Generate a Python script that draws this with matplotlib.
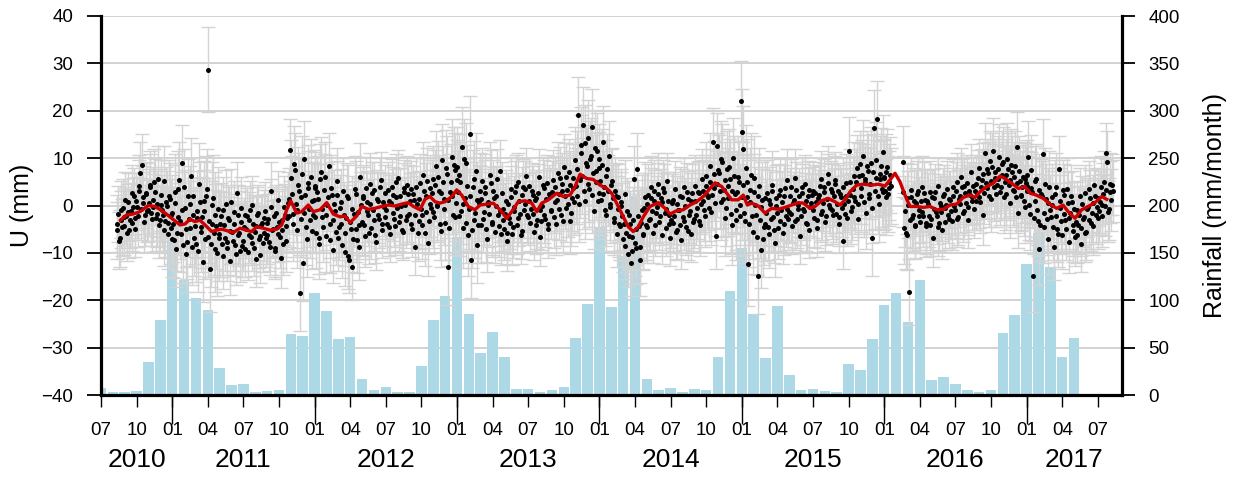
import numpy as np
import matplotlib.pyplot as plt

plt.rcParams['font.family'] = ['Liberation Sans', 'DejaVu Sans']

# monthly rainfall (mm/month), one bar per month from Jul 2010 to May 2017
rain_start = 2010.5
rainfall = [7, 3.5, 3.5, 4.6, 35, 79.5,
            165, 121, 102, 90, 29, 11, 12, 3.5, 4.6, 5.6, 64, 62,
            108, 89, 59.5, 61.6, 17, 5.6, 8, 3.5, 3.5, 31, 79.5, 105,
            167, 86, 44.7, 66, 40.5, 6.7, 6.7, 3.5, 5.6, 8.8, 60.5, 96.4,
            177, 93, 147, 210, 17, 5.6, 7.7, 3.5, 6.7, 5.6, 40.5, 110,
            155, 86, 39.4, 94.3, 21.5, 5.6, 6.7, 4.6, 3.5, 33, 26.7, 59.5,
            95.3, 108, 77, 121, 16, 19, 12, 5.6, 3.5, 5.6, 65, 84,
            138, 171, 135, 40.5, 60.5]

# typical 1-sigma of the daily solutions per month (Jul 2010 .. Aug 2017)
err_monthly = [6, 6, 6, 6.5, 7, 7.5,
               8, 8, 8.5, 9, 7, 6.5, 6, 6, 6, 6.5, 8, 8,
               7.5, 7, 7, 7, 6.5, 6, 6, 6, 6, 7, 7.5, 8,
               8.5, 8, 7, 6.5, 6.5, 6, 6, 6, 6.5, 7, 8, 8,
               7.5, 7, 7, 7.5, 6.5, 6, 6, 6, 6.5, 7, 8, 8.5,
               9, 8, 7, 6.5, 6, 6, 6, 6, 6, 7, 7.5, 8,
               8, 7.5, 7, 6.5, 6, 6, 6, 6, 6.5, 7, 7.5, 7.5,
               7.5, 7.5, 7, 6.5, 6, 6, 6.5, 6.5]

# vertical displacement U (mm); two interleaved samplings, about 2 days apart
u_2010 = [-5.2, -1.8, -6.9, -3.0, -0.5, -4.4, -2.2, 0.8, -5.1, -1.2, -3.6, 1.9,
          -2.7, -0.4, 4.2, 6.8, 8.6, 0.5, -2.1, 2.7, -0.9, 3.8, -1.5, 1.2,
          4.9, -2.6, 0.3, -4.1, 2.2, -1.0, 5.1, -3.3, -0.2, -6.0, 1.4, -4.8]
u_2010b = [-3.8, -7.4, -0.9, -4.6, -2.5, 1.1, -5.8, -1.4, -3.0, 2.6, -0.3, -4.9,
           0.9, -2.2, 3.1, -0.7, 1.8, -3.4, 2.4, -1.1, 0.6, 4.4, -2.8, -0.4,
           2.9, -1.7, 5.6, -3.0, 0.1, -2.0, -5.2, 0.7, -3.6, 2.0, -1.9, -7.1]
u_2011 = [-1.5, -7.2, 2.8, -5.9, 3.5, -3.3, 9.0, -8.4, -0.6, -10.2, 1.9, -4.7, 6.2, -2.1, -6.8,
          -8.1, -1.2, 4.6, -5.5, -2.4, 0.9, -7.0, 3.4, 28.7, -13.5, -3.8, 1.6, -9.2, -4.4, -0.8,
          -6.9, -2.3, -10.6, -4.1, 0.4, -7.7, -3.0, -11.8, -5.6, -1.4, -8.3, 2.7, -6.2, -9.7, -3.5,
          -7.4, -1.9, -5.0, -9.8, -3.1, -6.6, 0.2, -8.9, -4.3, -2.0, -7.1, -10.4, -3.7, -5.8, -1.1,
          -6.3, -2.8, -8.7, 3.1, -4.9, -9.5, -1.6, -6.0, -3.4, -11.0, -5.2, -0.3, -7.5, -2.6, 1.4,
          11.7, 2.5, -3.8, 7.4, -1.0, 4.3, -18.5, 1.8, -12.1, 9.8, -4.6, 3.6, -0.7, 6.0, -5.3, 1.2]
u_2011b = [-4.0, 0.6, -9.1, -2.5, 5.3, -6.1, -1.0, 3.9, -5.0, -7.6, -2.9, 0.4, -8.8, 2.1, -4.3,
           -2.6, -9.7, 0.7, -4.6, -11.9, -1.1, 2.0, -6.6, -3.2, -8.2, 0.2, -5.7, -2.0, -10.1, -6.1,
           -3.9, -8.1, -1.0, -6.8, -9.0, -2.6, -5.3, 0.8, -7.4, -4.0, -10.2, -2.1, -5.9, -0.5, -8.5,
           -4.5, -9.1, -2.3, -6.2, -0.9, -7.9, -3.8, -5.5, -11.2, -1.6, -6.4, -4.1, -8.0, -2.7, -6.9,
           -3.6, -7.8, -0.4, -5.1, -2.2, -9.0, -4.6, 1.2, -6.7, -3.0, -8.1, -1.9, -4.4, 0.5, -2.3,
           5.9, -1.7, 8.8, 0.4, -5.2, 3.0, -2.9, 6.6, -1.5, 2.2, -7.0, 4.8, -3.1, 0.9, -2.0, 3.7]
u_2012 = [4.2, -5.7, 1.3, -8.1, 7.0, -2.4, 3.3, -6.5, 0.1, 8.4, -4.0, 2.2, -9.3, -1.1, 5.1,
          -6.8, -0.5, -3.9, 3.0, -9.9, -2.7, 1.5, -11.5, -5.0, -12.9, -1.8, 2.4, -7.3, -4.2, 6.1,
          -3.5, 2.1, -6.4, 0.7, -2.0, 4.5, -4.8, -0.9, 3.2, -7.6, 1.0, -2.9, 5.3, -5.1, -0.4,
          2.6, -3.8, 0.9, -6.0, 3.9, -1.5, -4.4, 1.7, 5.8, -2.3, -0.1, -5.6, 2.9, -3.0, 4.4,
          -1.7, 3.4, -4.9, 1.1, -8.7, 0.3, -3.2, 4.8, -2.0, 6.5, -5.8, 2.0, -7.9, 3.7, -0.6,
          5.6, -2.5, 8.3, -0.2, 3.1, -5.4, 9.6, 1.4, -3.6, 6.7, -13.0, 2.8, 10.2, -1.9, 7.4, 0.6]
u_2012b = [-2.4, 2.9, -6.9, 5.5, -0.8, -4.5, 6.0, -1.9, 1.7, -7.2, 3.6, -3.0, 0.4, -5.5, 2.3,
           -4.6, 0.8, -8.4, -2.0, -5.7, 1.9, -10.6, -3.5, -0.8, -7.1, 3.4, -4.9, -1.3, -8.8, 0.1,
           1.6, -4.1, 3.7, -1.2, -5.8, 0.3, 2.6, -3.0, -6.2, 1.4, -1.9, 4.0, -3.9, 0.8, -2.5,
           -1.0, 3.2, -4.6, 0.5, 2.2, -2.8, 4.9, -0.6, -3.5, 1.9, -5.1, 3.6, 0.1, -2.2, 2.5,
           0.9, -3.8, 2.4, -2.1, 4.0, -5.7, 1.3, -0.7, -4.2, 3.0, -1.4, 5.1, -3.3, 0.4, 2.7,
           -1.4, 4.3, 0.2, 6.1, -3.9, 2.7, 5.0, -0.8, 7.9, 1.1, -4.8, 4.9, 2.0, 8.6, -2.4, 5.3]
u_2013 = [8.1, -2.2, 4.9, 12.3, -4.7, 1.6, 9.0, -6.3, 15.1, -11.5, 3.8, -3.0, 7.2, -8.4, 0.5,
          -4.1, 5.2, -1.3, 2.7, -7.0, 0.8, 6.4, -3.4, 3.1, -5.6, 1.9, -2.0, 7.3, -6.1, -0.7,
          -4.9, 1.0, -7.4, -2.6, 3.5, -6.0, -0.3, 2.9, -4.2, 5.0, -1.7, -5.3, 3.8, 0.4, 6.2,
          -2.4, 4.1, -0.8, 2.3, -5.5, 1.5, -3.1, 6.0, -6.7, 0.0, 3.6, -2.8, 4.7, -4.0, 2.0,
          -1.1, 5.3, 0.7, -3.9, 6.8, 2.4, -2.0, 4.5, 8.1, -0.6, 3.2, 7.0, -3.3, 1.6, 5.9,
          9.6, 2.1, 19.1, 5.4, 12.8, 17.0, 1.0, 8.9, 14.2, 3.5, 10.4, 16.6, -1.2, 7.3, 11.5, 2.6]
u_2013b = [2.9, 6.5, -1.1, 0.4, 9.8, -3.6, 4.2, -0.7, 2.1, -5.2, 5.6, -1.6, 1.2, -4.1, 3.0,
           1.3, -2.9, 3.9, -5.0, 0.1, -1.8, 4.7, -3.9, 1.6, -0.2, 5.5, -4.3, -1.1, 2.6, -3.0,
           -1.8, -5.8, 0.4, -3.7, 1.8, -4.6, -1.2, 4.1, -2.6, 0.9, -6.3, 2.2, -0.9, 3.4, -2.0,
           0.9, -3.6, 3.0, -1.7, 1.1, -4.2, 2.7, -0.9, -3.3, 4.3, -2.0, 1.4, -5.0, 2.5, -1.0,
           2.9, -2.4, 4.0, 1.2, -0.8, 5.9, 3.1, -3.3, 2.0, 6.1, 0.3, 4.4, -1.5, 3.6, 0.8,
           4.1, 7.8, 0.3, 11.0, 6.2, 3.0, 13.2, 8.3, 4.6, 9.9, 2.2, 6.9, 12.1, 5.0, 0.9, 8.0]
u_2014 = [9.8, 1.2, 13.5, 4.0, -2.1, 7.6, 10.4, 0.3, 5.2, -3.5, 3.0, -6.0, 1.8, -4.4, 0.0,
          -7.1, 2.5, -5.8, -10.3, -1.9, -12.2, -6.7, 5.5, -9.0, 7.7, -4.3, -11.6, -1.0, -6.2, 1.7,
          -4.6, 2.2, -2.8, 3.9, -5.7, 0.9, -1.5, 4.6, -3.4, 1.6, -6.3, 2.8, -0.7, 5.1, -4.0,
          -6.8, 0.6, -3.7, 3.4, -5.2, -0.9, 2.1, -7.3, -2.4, 4.0, -4.5, 1.3, -1.9, -6.0, 2.7,
          -2.9, 4.2, -0.6, 2.6, -4.1, 5.5, 0.9, -2.2, 6.3, 1.8, 8.4, -1.3, 13.5, 3.7, -6.4,
          12.6, 6.9, 0.8, 9.2, 3.3, -2.7, 7.8, 1.5, 5.6, -4.1, 10.0, 2.4, -3.0, 6.1, 0.2, 22.1]
u_2014b = [5.1, 8.6, 2.4, -1.0, 6.3, 3.1, -0.4, 4.4, 1.5, -2.7, 2.0, -0.8, -3.9, 0.7, -2.3,
           -3.9, -8.6, -1.2, -6.4, -4.0, -9.6, -3.1, -7.9, -5.0, -2.2, -8.8, -3.6, -6.0, -0.6, -4.1,
           0.4, -3.0, 1.5, -1.2, 3.1, -4.1, -0.3, 2.4, -2.3, 0.8, 3.6, -1.6, -4.7, 1.0, -2.1,
           -3.0, 1.1, -2.2, -5.6, 0.3, -1.0, -4.1, 1.8, -3.3, -0.2, 2.9, -5.4, -1.1, 0.9, -3.5,
           1.0, -1.9, 2.9, -3.3, 0.4, 3.1, -1.0, 4.1, 2.3, -0.5, 5.0, 2.2, 6.7, 0.6, 4.5,
           7.4, 3.1, 9.9, 1.4, 5.3, -0.6, 4.2, 8.1, -1.8, 3.0, 6.2, -0.9, 2.8, 4.9, -2.2, 1.7]
u_2015 = [15.6, 11.9, -3.2, 5.0, -12.3, 0.7, 6.4, -5.5, 2.8, -1.9, -14.9, 4.1, -9.4, 1.2, -4.6,
          -3.8, 2.6, -6.1, 0.4, 4.4, -2.5, -8.0, 1.5, -4.7, 3.3, -0.9, -5.8, 2.0, -2.2, 5.4,
          -1.4, 3.8, -4.3, 1.1, 5.9, -2.9, 0.2, -6.4, 2.7, -0.8, 4.6, -3.6, 1.9, -5.1, 0.6,
          3.1, -2.7, 0.8, -4.8, 2.3, 5.6, -1.2, 3.9, -3.5, 1.4, 6.6, -0.5, 2.8, -2.1, 4.5,
          -1.8, 3.0, -4.0, 1.7, -7.4, 0.4, 4.8, -2.6, 11.6, 2.2, -0.3, 6.3, 1.0, 7.9, -2.9,
          8.7, 2.0, 10.5, 4.9, -1.6, 7.3, 1.5, 9.0, -6.9, 16.3, 5.8, 18.2, 0.3, 6.7, 3.4, 11.2]
u_2015b = [4.4, -1.5, 8.0, 1.8, -4.0, 3.2, -2.3, 5.7, 0.2, -6.6, 2.1, -3.1, -0.4, -7.1, 1.6,
           -1.5, -4.5, 1.1, -2.9, 3.0, -5.2, 0.0, -1.6, 2.3, -3.2, 0.8, -4.0, 3.6, -0.7, -2.8,
           1.9, -1.8, 0.5, -3.3, 3.2, -0.7, 2.0, -2.3, 4.0, -1.2, 0.9, -4.0, 3.3, -0.4, 2.2,
           -0.9, 2.6, -3.0, 1.5, 4.1, -1.8, 0.6, 2.9, -2.3, 4.8, 0.1, 3.4, -1.0, 1.9, 5.3,
           0.3, -2.5, 2.5, -0.6, 4.0, -1.7, 2.0, 0.9, 5.0, -1.2, 3.4, 1.8, 4.9, 0.4, 6.2,
           3.7, 6.4, 0.8, 5.5, 8.3, 2.4, 4.6, -0.5, 7.0, 3.0, 9.6, 1.9, 5.6, 8.4, 2.9, 6.0]
u_2016a = [5.9, 1.8, 8.2, 3.6, 6.5]
u_2016ab = [3.0, 7.1, 2.4, 5.0, 4.2]
u_2016b = [9.2, -4.8, -5.9, 1.5, -18.3, 3.2, -2.6, 0.9, -4.1, 2.4, -1.0, -3.5, 3.9, -2.2, 1.1,
           -4.4, 0.3, 2.9, -2.8, -6.9, 1.6, -1.3, 4.1, -3.7, 0.0, -5.2, 2.5, -0.6, 3.4, -2.9,
           1.2, -3.3, 3.8, -0.9, 5.0, -2.4, 2.0, 6.1, -1.6, 4.2, 0.5, -3.0, 3.1, 7.0, 1.8,
           -0.8, 4.6, 2.3, 8.0, 0.7, 5.4, -1.9, 11.0, 3.6, 6.8, 9.3, 1.4, 11.4, 5.9, 2.5,
           7.6, 10.2, 3.9, 8.8, 1.7, 6.5, 9.9, 4.4, 0.6, 7.1, 3.0, 8.3, 12.3, -1.5, 5.2,
           2.1, 6.0, -0.4, 4.8]
u_2016bb = [2.9, -1.2, -6.2, 0.2, -3.1, 1.8, -1.9, -4.3, 0.5, 3.1, -2.3, 0.9, -1.3, 2.7, -3.7,
            0.9, -2.3, -4.1, 1.8, -0.7, 2.8, -2.2, -4.6, 0.6, -1.4, 1.9, -3.4, 0.2, -2.0, 1.3,
            -1.1, 2.0, -0.2, 3.1, -2.8, 1.4, 0.3, 3.9, -1.1, 2.6, 4.7, -0.3, 2.2, 0.9, 4.1,
            3.0, 0.9, 5.7, 1.8, 3.9, 6.6, 2.6, 4.7, 7.6, 1.9, 5.2, 8.2, 3.8, 7.0, 4.4,
            5.5, 2.8, 6.4, 9.1, 4.9, 2.4, 7.7, 5.3, 8.6, 3.3, 6.0, 1.7, 4.8, 7.2, 2.3,
            3.9, 1.0, 5.6, 3.0]
u_2017 = [6.4, 10.3, -1.8, 3.7, -14.9, 0.9, 5.5, -3.2, -9.2, 2.4, 10.8, -4.6, 1.3, -7.0, 3.9,
          -2.5, 1.8, -8.7, 4.0, -4.9, 7.6, -0.6, -6.3, 2.2, -3.1, 3.5, -7.8, -1.5, 0.8, -5.4,
          -6.7, -1.0, -4.2, 1.9, -8.1, -2.8, 2.6, -5.5, -0.3, 3.4, -3.6, 0.5, 4.3, -2.1, 1.6,
          -1.2, 3.9, 0.2, 5.0, 11.0, 9.2, -0.8, 2.8, 4.4]
u_2017b = [4.1, 0.2, 7.4, 2.8, -2.7, 5.1, -0.9, 3.3, -4.2, 1.9, -1.6, 4.6, -2.9, 0.5, -1.0,
           0.2, -4.6, 2.5, -2.2, -6.0, 1.0, -3.3, 3.2, -1.7, -5.0, 0.6, -2.7, 2.1, -4.1, -0.8,
           -3.5, -6.2, -1.9, -4.7, 0.3, -2.4, -5.9, -0.7, -3.1, 1.5, -1.6, -4.4, 2.0, -0.3, -2.6,
           0.8, -2.3, 2.5, 0.0, 3.3, -1.3, 4.5, 1.2, 3.0]

# first and last epoch (decimal year) of each stretch of data, with both samplings
segments = [(2010.61, 2010.995, u_2010, u_2010b), (2011.0, 2011.995, u_2011, u_2011b),
            (2012.0, 2012.995, u_2012, u_2012b), (2013.0, 2013.995, u_2013, u_2013b),
            (2014.0, 2014.995, u_2014, u_2014b), (2015.0, 2015.995, u_2015, u_2015b),
            (2016.0, 2016.041, u_2016a, u_2016ab), (2016.13, 2016.997, u_2016b, u_2016bb),
            (2017.0, 2017.60, u_2017, u_2017b)]

# smoothed series (red line)
trend_t = [2010.638, 2010.680, 2010.725, 2010.774, 2010.832, 2010.879, 2010.938, 2010.996,
           2011.055, 2011.090, 2011.125, 2011.160, 2011.195, 2011.230, 2011.277, 2011.313,
           2011.348, 2011.383, 2011.429, 2011.476, 2011.523, 2011.558, 2011.593, 2011.640,
           2011.687, 2011.734, 2011.769, 2011.804, 2011.832, 2011.874, 2011.909, 2011.956, 2011.991,
           2012.038, 2012.085, 2012.131, 2012.178, 2012.213, 2012.249, 2012.296, 2012.331,
           2012.377, 2012.424, 2012.471, 2012.518, 2012.565, 2012.612, 2012.658, 2012.694,
           2012.740, 2012.775, 2012.810, 2012.846, 2012.881, 2012.916, 2012.963, 2012.998,
           2013.033, 2013.079, 2013.126, 2013.162, 2013.209, 2013.255, 2013.302, 2013.349,
           2013.384, 2013.430, 2013.478, 2013.525, 2013.560, 2013.595, 2013.641, 2013.700,
           2013.747, 2013.794, 2013.829, 2013.864, 2013.911, 2013.957,
           2014.004, 2014.051, 2014.086, 2014.121, 2014.168, 2014.203, 2014.238, 2014.273,
           2014.308, 2014.355, 2014.414, 2014.461, 2014.496, 2014.543, 2014.589, 2014.636,
           2014.683, 2014.730, 2014.777, 2014.812, 2014.859, 2014.894, 2014.929, 2014.975,
           2015.010, 2015.039, 2015.070, 2015.116, 2015.163, 2015.210, 2015.256, 2015.303,
           2015.350, 2015.397, 2015.432, 2015.479, 2015.514, 2015.561, 2015.607, 2015.654,
           2015.690, 2015.725, 2015.760, 2015.807, 2015.853, 2015.912, 2015.959,
           2016.006, 2016.041, 2016.076, 2016.111, 2016.146, 2016.181, 2016.228, 2016.275,
           2016.322, 2016.369, 2016.415, 2016.462, 2016.509, 2016.555, 2016.602, 2016.638,
           2016.673, 2016.720, 2016.766, 2016.813, 2016.848, 2016.895, 2016.942, 2016.989,
           2017.024, 2017.068, 2017.117, 2017.164, 2017.211, 2017.256, 2017.292, 2017.340,
           2017.387, 2017.433, 2017.480, 2017.528, 2017.563]
trend_u = [-3.1, -2.0, -1.8, -1.3, 0.0, -0.2, -1.3, -2.7,
           -4.1, -3.9, -2.9, -3.4, -3.1, -4.1, -5.5, -5.2,
           -5.0, -5.3, -5.7, -4.8, -5.2, -5.5, -4.5, -4.8,
           -5.2, -5.0, -4.1, -0.9, 1.0, -1.6, -1.3, 0.1, -1.3,
           -0.9, 0.6, -1.8, -2.4, -2.2, -3.6, -2.2, -0.2,
           -0.8, -0.6, -0.2, 0.1, -0.1, 0.3, 0.6, -0.2,
           -0.9, 1.3, 1.9, 0.8, 0.5, 0.8, 1.9, 3.3,
           2.2, -0.2, -0.9, 0.1, 0.3, 0.5, -0.9, -2.7,
           -1.3, 0.8, 1.0, 0.5, -1.3, 0.5, 1.2, 2.6,
           1.9, 2.2, 4.0, 6.6, 5.7, 5.5,
           4.3, 3.6, 2.6, 0.5, -2.4, -4.5, -5.5, -4.5,
           -2.4, -0.2, 0.6, -0.6, -1.8, -1.1, -0.9, 0.1,
           0.8, 1.9, 3.6, 4.8, 4.0, 2.6, 1.2, 1.2,
           2.2, 0.1, 0.5, -0.1, -1.6, -0.6, -0.8, -0.4,
           0.1, 0.6, 0.5, -0.6, -0.2, 1.0, 1.5, 0.8,
           0.1, 1.2, 2.9, 4.3, 4.5, 4.3, 4.5,
           4.1, 5.4, 6.8, 5.0, 2.2, -0.2, -0.2, -0.4,
           -0.2, -0.9, -0.8, 0.1, 0.3, 1.7, 2.2, 1.7,
           2.9, 4.0, 4.7, 6.2, 5.7, 4.7, 3.6, 4.0,
           2.6, 2.2, 1.5, 0.3, -0.6, 0.1, -1.3, -2.7,
           -0.9, -0.2, 0.6, 1.9, 1.3]

years = [2010, 2011, 2012, 2013, 2014, 2015, 2016, 2017]
x_min, x_max = 2010.5, 2017.67

t_parts, u_parts = [], []
for a, b, v1, v2 in segments:
    tt = np.linspace(a, b, len(v1))
    half = (b - a) / max(len(v1) - 1, 1) / 2
    t_parts += [tt, tt[:len(v2)] + half]
    u_parts += [np.array(v1, dtype=float), np.array(v2, dtype=float)]
t = np.concatenate(t_parts)
u = np.concatenate(u_parts)
order = np.argsort(t)
t, u = t[order], u[order]
err = np.array([err_monthly[int((ti - 2010.5) * 12)] for ti in t])
rain_t = rain_start + np.arange(len(rainfall)) / 12.0

fig = plt.figure(figsize=(12.38, 4.78), dpi=100)
ax = fig.add_axes([101 / 1238, 1 - 395 / 478, 1021 / 1238, 379 / 478])
ax2 = ax.twinx()
ax.set_zorder(2)
ax2.set_zorder(1)
ax.patch.set_visible(False)

# rainfall bars behind the GPS series
ax2.set_axisbelow(True)
ax2.grid(axis='y', color='#cfcfcf', lw=1.3)
ax2.bar(rain_t, rainfall, width=0.074, color='#add8e6', zorder=2)
ax2.set_ylim(0, 400)
ax2.set_yticks(range(0, 401, 50))

ax.errorbar(t, u, yerr=err, fmt='none', ecolor='#d3d3d3', elinewidth=1,
            capsize=5, capthick=1, zorder=2)
ax.plot(t, u, 'o', color='black', ms=3.6, mec='none', zorder=3)
ax.plot(trend_t, trend_u, color='#cc0000', lw=2.4, zorder=4)

ax.set_xlim(x_min, x_max)
ax.set_ylim(-40, 40)
ax.set_yticks(range(-40, 41, 10))

# quarter ticks with month labels, long ticks at January
quarters = np.arange(2010.5, 2017.51, 0.25)
ax.set_xticks(quarters)
ax.set_xticklabels(['01', '04', '07', '10'][int(round((q % 1) * 4))] for q in quarters)
ax.set_xticks(years[1:], minor=True)
ax.xaxis.remove_overlapping_locs = False
ax.tick_params(axis='x', which='major', length=8.6, width=1, pad=11, labelsize=13.5)
ax.tick_params(axis='x', which='minor', length=21, width=1)
ax.tick_params(axis='y', length=10, width=1.3, pad=10, labelsize=13.5)
ax2.tick_params(axis='y', length=9.5, width=1.3, pad=9.5, labelsize=13.5)

for y in years:
    c = (max(y, x_min) + min(y + 1, x_max)) / 2
    ax.annotate(str(y), xy=(c, 0), xycoords=('data', 'axes fraction'),
                xytext=(0, -38), textcoords='offset points',
                ha='center', va='top', fontsize=19)

for s in ['top', 'right']:
    ax.spines[s].set_visible(False)
for s in ['top', 'left', 'bottom']:
    ax2.spines[s].set_visible(False)
ax.spines['left'].set_linewidth(2.3)
ax.spines['bottom'].set_linewidth(2.3)
ax2.spines['right'].set_linewidth(2.3)

fig.text(22 / 1238, 1 - 205 / 478, 'U (mm)', rotation=90, ha='center', va='center', fontsize=18)
fig.text(1215 / 1238, 1 - 205 / 478, 'Rainfall (mm/month)', rotation=90,
         ha='center', va='center', fontsize=18)

fig.savefig('out.png', dpi=100)
